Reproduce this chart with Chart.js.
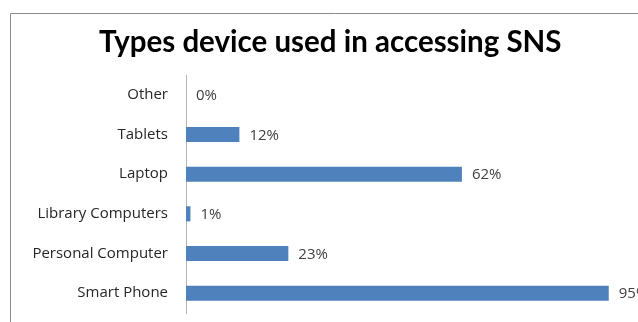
<!DOCTYPE html>
<html>
<head>
<meta charset="utf-8">
<script src="https://cdn.jsdelivr.net/npm/chart.js@4/dist/chart.umd.min.js"></script>
<style>
  html, body { margin: 0; padding: 0; background: #fff; overflow: hidden; }
  #wrap { width: 660px; height: 322px; }
</style>
</head>
<body>
<div id="wrap"><canvas id="c" width="660" height="322"></canvas></div>
<script>
// Device types, listed top to bottom
const categories = ["Other", "Tablets", "Laptop", "Library Computers", "Personal Computer", "Smart Phone"];
// Share of respondents using each device (%)
const percentages = [0, 12, 62, 1, 23, 95];
const chartTitle = "Types device used in accessing SNS";

const textFont = "'Open Sans', Lato, sans-serif";
const titleFont = "Lato, 'Open Sans', sans-serif";

// Outer chart frame
const framePlugin = {
  id: "frame",
  beforeDraw(chart) {
    const ctx = chart.ctx;
    ctx.save();
    ctx.strokeStyle = "#8c8c8c";
    ctx.lineWidth = 1;
    ctx.beginPath();
    ctx.moveTo(10.5, chart.height + 5);
    ctx.lineTo(10.5, 13.5);
    ctx.lineTo(chart.width + 5, 13.5);
    ctx.stroke();
    ctx.restore();
  }
};

// Percentage text to the right of each bar
const valueLabels = {
  id: "valueLabels",
  afterDatasetsDraw(chart) {
    const ctx = chart.ctx;
    const meta = chart.getDatasetMeta(0);
    ctx.save();
    ctx.font = "15px " + textFont;
    ctx.fillStyle = "#404040";
    ctx.textAlign = "left";
    ctx.textBaseline = "middle";
    meta.data.forEach((bar, i) => {
      ctx.fillText(percentages[i] + "%", bar.x + 10, bar.y + 1);
    });
    ctx.restore();
  }
};

new Chart(document.getElementById("c"), {
  type: "bar",
  data: {
    labels: categories,
    datasets: [{
      data: percentages,
      backgroundColor: "#4f81bd",
      borderWidth: 0,
      barPercentage: 0.38,
      categoryPercentage: 1
    }]
  },
  options: {
    indexAxis: "y",
    responsive: false,
    animation: false,
    layout: { padding: { left: 29.5, right: 29, top: 0, bottom: 9 } },
    plugins: {
      legend: { display: false },
      tooltip: { enabled: false },
      title: {
        display: true,
        text: chartTitle,
        color: "#000",
        font: { family: titleFont, size: 29.5, weight: "bold", lineHeight: 1.2 },
        padding: { top: 24.5, bottom: 15.1 }
      }
    },
    scales: {
      x: {
        display: false,
        min: 0,
        max: 100
      },
      y: {
        afterFit(scale) {
          scale.width = 156.5;
          scale.paddingTop = 0;
          scale.paddingBottom = 0;
        },
        grid: { color: "rgba(0,0,0,0)", drawTicks: false },
        border: { display: true, color: "#b3b3b3", width: 1 },
        ticks: {
          padding: 18,
          color: "#262626",
          font: { family: textFont, size: 15 }
        }
      }
    }
  },
  plugins: [framePlugin, valueLabels]
});
</script>
</body>
</html>
